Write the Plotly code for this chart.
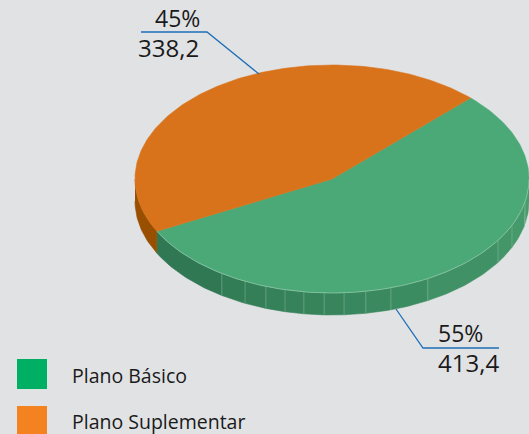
import math
import plotly.graph_objects as go

categories = ["Plano Básico", "Plano Suplementar"]
values = [413.4, 338.2]
value_labels = ["413,4", "338,2"]
percent_labels = ["55%", "45%"]

W, H = 529, 434
BG = "#e1e2e4"
TOP = ["#4ba977", "#d8731b"]
SWATCH = ["#00ae64", "#f58220"]
WALL_ORANGE = "#985000"
LINE = "#1f6fb8"
TEXT = "#1a1a1a"
FONT = "Open Sans"

CX, CY, RX, RY, DEPTH = 332, 179, 197, 114, 22
START = 207.3  # the Básico slice begins here, running counter-clockwise on screen
FACET_EDGES = [236, 243.8, 250.4, 256.2, 261.8, 267.7, 273.5, 279.9, 287.4, 299.1,
               327.4, 336, 348.5]


def pt(a, dy=0):
    r = math.radians(a)
    return CX + RX * math.cos(r), CY - RY * math.sin(r) + dy


def arc(a0, a1, dy=0, step=1.0):
    n = max(2, int(abs(a1 - a0) / step) + 1)
    return [pt(a0 + (a1 - a0) * i / (n - 1), dy) for i in range(n)]


def poly(points, color, line=None, width=0, closed=True):
    xs = [p[0] for p in points]
    ys = [p[1] for p in points]
    if closed:
        return go.Scatter(x=xs, y=ys, mode="lines", fill="toself", fillcolor=color,
                          line=dict(width=0.6, color=color), hoverinfo="skip", showlegend=False)
    return go.Scatter(x=xs, y=ys, mode="lines", line=dict(width=width, color=color),
                      hoverinfo="skip", showlegend=False)


def mix(c0, c1, t):
    return "rgb(%d,%d,%d)" % tuple(round(c0[i] + (c1[i] - c0[i]) * t) for i in range(3))


total = sum(values)
sweep = [v / total * 360 for v in values]
green_a0, green_a1 = START, START + sweep[0]
orange_a0, orange_a1 = green_a1, green_a1 + sweep[1]

fig = go.Figure()

# walls
fig.add_trace(poly(arc(180, green_a0) + arc(green_a0, 180, DEPTH), WALL_ORANGE))
edges = [green_a0] + FACET_EDGES + [360]
for a0, a1 in zip(edges[:-1], edges[1:]):
    t = ((a0 + a1) / 2 - green_a0) / (360 - green_a0)
    col = mix((44, 116, 80), (73, 158, 110), t)
    fig.add_trace(poly(arc(a0, a1) + arc(a1, a0, DEPTH), col))
for a in FACET_EDGES:
    fig.add_trace(poly([pt(a), pt(a, DEPTH)], "rgba(170,205,185,0.35)", width=1, closed=False))

# top faces
fig.add_trace(poly([(CX, CY)] + arc(green_a0, green_a1) + [(CX, CY)], TOP[0]))
fig.add_trace(poly([(CX, CY)] + arc(orange_a0, orange_a1) + [(CX, CY)], TOP[1]))
fig.add_trace(poly(arc(green_a0, 360), "rgba(190,225,205,0.45)", width=1, closed=False))

# leaders
fig.add_trace(poly([(259, 74), (207, 32), (141, 32)], LINE, width=1.3, closed=False))
fig.add_trace(poly([(396, 309), (423, 348), (499, 348)], LINE, width=1.3, closed=False))

# legend swatches
for y, c in zip([374, 421], SWATCH):
    fig.add_shape(type="rect", x0=17, x1=47, y0=y - 15, y1=y + 15, fillcolor=c, line_width=0)

ann = []
def label(x, y, text, size, anchor="left"):
    ann.append(dict(x=x, y=y, text=text, xref="x", yref="y", showarrow=False, xanchor=anchor,
                    yanchor="middle", font=dict(family=FONT, size=size, color=TEXT)))

label(202, 18, percent_labels[1], 23, "right")
label(201, 47, value_labels[1], 24, "right")
label(485, 333, percent_labels[0], 23, "right")
label(501, 362, value_labels[0], 24, "right")
label(70, 375, categories[0], 19.5)
label(70, 421, categories[1], 19.5)

fig.update_layout(
    width=W, height=H, margin=dict(l=0, r=0, t=0, b=0), autosize=False,
    paper_bgcolor=BG, plot_bgcolor=BG, showlegend=False, annotations=ann,
    xaxis=dict(range=[0, W], visible=False, fixedrange=True),
    yaxis=dict(range=[H, 0], visible=False, fixedrange=True),
)
fig.write_html("out.html", config=dict(displayModeBar=False),
               post_script="document.body.style.margin='0';document.body.style.overflow='hidden';document.body.style.background='%s';" % BG)
